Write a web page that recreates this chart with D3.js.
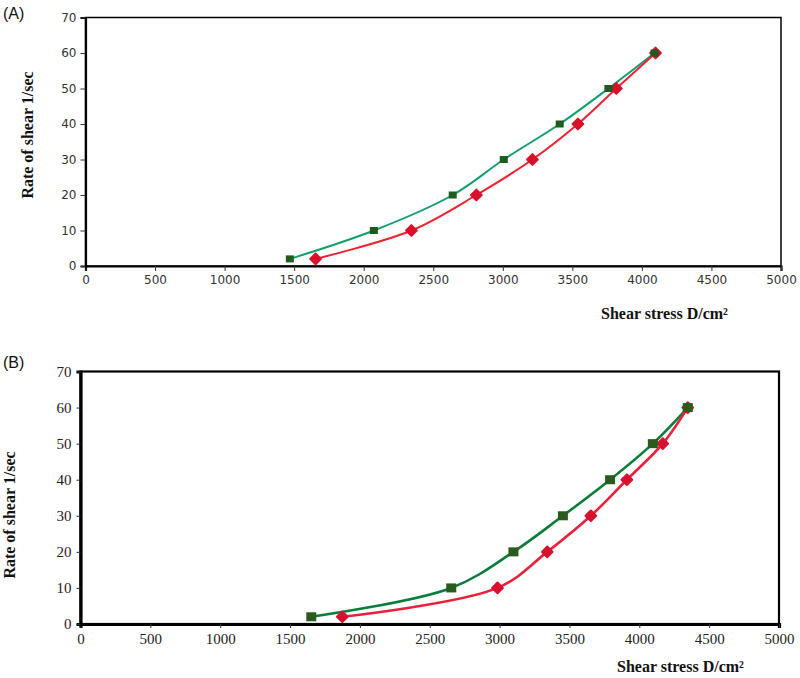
<!DOCTYPE html>
<html><head><meta charset="utf-8">
<script src="https://cdn.jsdelivr.net/npm/d3@7"></script>
<style>body{margin:0;background:#fff}svg{display:block}</style>
</head><body>
<svg id="chart" width="800" height="678"></svg>
<script>
// ---- data ----
const rateOfShear = [2, 10, 20, 30, 40, 50, 60];
const stressA_green = [1469, 2073, 2640, 3007, 3409, 3759, 4091];
const stressA_red   = [1654, 2343, 2810, 3213, 3540, 3816, 4098];
const stressB_green = [1652, 2654, 3099, 3453, 3791, 4097, 4347];
const stressB_red   = [1874, 2985, 3341, 3653, 3911, 4168, 4347];
const xTicks = [0, 500, 1000, 1500, 2000, 2500, 3000, 3500, 4000, 4500, 5000];
const yTicks = [0, 10, 20, 30, 40, 50, 60, 70];
const panelLabels = ["(A)", "(B)"];
const xTitle = "Shear stress D/cm\u00B2";
const yTitle = "Rate of shear 1/sec";

const svg = d3.select("#chart");

function panel(cfg) {
  const x = d3.scaleLinear().domain([0, 5000]).range([cfg.left, cfg.right]);
  const y = d3.scaleLinear().domain([0, 70]).range([cfg.bottom, cfg.top]);
  const g = svg.append("g");

  // frame
  g.append("rect").attr("x", cfg.left).attr("y", cfg.top)
    .attr("width", cfg.right - cfg.left).attr("height", cfg.bottom - cfg.top)
    .attr("fill", "none").attr("stroke", "#000").attr("stroke-width", cfg.frameW);

  const xa = g.append("g").attr("transform", `translate(0,${cfg.bottom})`)
    .call(d3.axisBottom(x).tickValues(xTicks).tickSize(cfg.tick).tickPadding(cfg.xPad).tickFormat(d3.format("d")));
  const ya = g.append("g").attr("transform", `translate(${cfg.left},0)`)
    .call(d3.axisLeft(y).tickValues(yTicks).tickSize(cfg.tick).tickPadding(cfg.yPad).tickFormat(d3.format("d")));
  [xa, ya].forEach(a => {
    a.select(".domain").attr("stroke", "#000").attr("stroke-width", cfg.axisW);
    a.selectAll(".tick line").attr("stroke", "#333").attr("stroke-width", 1);
    a.selectAll(".tick text").attr("fill", cfg.tickColor)
      .style("font-family", cfg.tickFont).style("font-size", cfg.tickSize + "px");
  });

  const line = d3.line().x(d => x(d[0])).y(d => y(d[1])).curve(d3.curveCatmullRom.alpha(0.5));
  cfg.series.forEach(s => {
    const pts = s.xs.map((v, i) => [v, rateOfShear[i]]);
    g.append("path").datum(pts).attr("d", line).attr("fill", "none")
      .attr("stroke", s.line).attr("stroke-width", cfg.lineW);
  });
  // markers: red first, green on top
  cfg.series.slice().reverse().forEach(s => {
    const pts = s.xs.map((v, i) => [v, rateOfShear[i]]);
    if (s.marker === "square") {
      g.selectAll(null).data(pts).enter().append("rect")
        .attr("x", d => x(d[0]) - s.size / 2).attr("y", d => y(d[1]) - s.size / 2 + 0.5)
        .attr("width", s.size).attr("height", s.size - 1).attr("fill", s.fill);
    } else {
      const sym = d3.symbol().type(d3.symbolDiamond2).size(s.size * s.size * 0.9);
      g.selectAll(null).data(pts).enter().append("path")
        .attr("d", sym).attr("transform", d => `translate(${x(d[0])},${y(d[1])})`)
        .attr("fill", s.fill).attr("stroke", s.fill).attr("stroke-width", 2).attr("stroke-linejoin", "round");
    }
  });

  // titles
  g.append("text").attr("x", cfg.xtX).attr("y", cfg.xtY).text(xTitle)
    .style("font-family", "'Liberation Serif', 'Times New Roman', serif").style("font-weight", "bold")
    .style("font-size", cfg.titleSize + "px").attr("fill", "#111");
  g.append("text").attr("transform", `translate(${cfg.ytX},${cfg.ytY}) rotate(-90)`)
    .attr("text-anchor", "middle").text(yTitle)
    .style("font-family", "'Liberation Serif', 'Times New Roman', serif").style("font-weight", "bold")
    .style("font-size", cfg.titleSize + "px").attr("fill", "#111");
  g.append("text").attr("x", 3).attr("y", cfg.plY).text(cfg.label)
    .style("font-family", "'Liberation Sans', Arial, sans-serif").style("font-size", "16px").attr("fill", "#111");
}

panel({
  label: panelLabels[0], plY: 19,
  left: 85.5, right: 781, top: 17.5, bottom: 266,
  frameW: 1.5, axisW: 2.2, tick: 5, xPad: 4, yPad: 4,
  tickColor: "#333", tickFont: "'DejaVu Sans', Verdana, sans-serif", tickSize: 12,
  lineW: 2,
  series: [
    { xs: stressA_green, line: "#12a06a", fill: "#1f5a1f", marker: "square", size: 8 },
    { xs: stressA_red, line: "#ee2232", fill: "#d8102a", marker: "diamond", size: 9 }
  ],
  titleSize: 16, xtX: 601, xtY: 319, ytX: 33, ytY: 135
});

panel({
  label: panelLabels[1], plY: 368,
  left: 80.5, right: 779, top: 371.5, bottom: 624,
  frameW: 2.2, axisW: 3.2, tick: 4, xPad: 5, yPad: 5,
  tickColor: "#222", tickFont: "'Liberation Serif', 'Times New Roman', serif", tickSize: 15,
  lineW: 2.6,
  series: [
    { xs: stressB_green, line: "#0a7d3a", fill: "#2a5a1c", marker: "square", size: 10 },
    { xs: stressB_red, line: "#e8203a", fill: "#d81030", marker: "diamond", size: 9 }
  ],
  titleSize: 16, xtX: 617, xtY: 672, ytX: 15, ytY: 515
});
</script>
</body></html>
